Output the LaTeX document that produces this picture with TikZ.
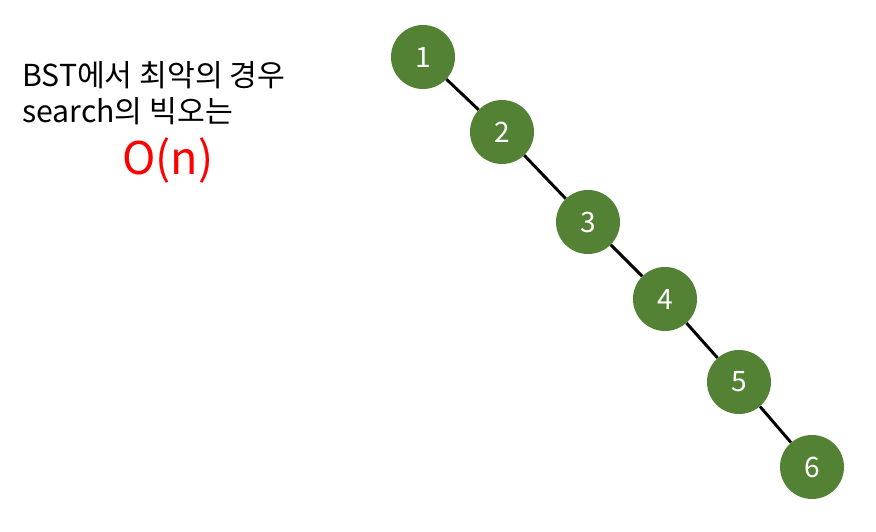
\documentclass[tikz,border=0pt]{standalone}
\usepackage{fontspec}
\setmainfont{Noto Sans CJK KR}
\usetikzlibrary{positioning}
\usetikzlibrary{calc}
\definecolor{treegreen}{HTML}{548235}

\begin{document}
\begin{tikzpicture}[x=0.025cm,y=-0.025cm,
every node/.style={font=\fontsize{21.5}{26}\selectfont},
vertex/.style={circle, fill=treegreen, inner sep=0pt, minimum size=1.6cm, text=white, font=\fontsize{20}{24}\selectfont},
edge/.style={line width=2.1pt, black}]

\useasboundingbox (0,0) rectangle (876,532);

\node (v1) at (423,57) [vertex] {1};
\node (v2) at (502,132) [vertex] {2};
\node (v3) at (588,222) [vertex] {3};
\node (v4) at (665,299) [vertex] {4};
\node (v5) at (739,382) [vertex] {5};
\node (v6) at (812,467) [vertex] {6};

\foreach \a/\b in {v1/v2, v2/v3, v3/v4, v4/v5, v5/v6}
{ \draw [edge] (\a) -- (\b); }

\node (line1) at (22,87) [anchor=base west, inner sep=0pt] {BST에서 최악의 경우};
\node (line2) at (22,122) [anchor=base west, inner sep=0pt] {search의 빅오는};
\node (bigo) at (168,174) [anchor=base, inner sep=0pt, red, font=\fontsize{32}{38}\selectfont] {O(n)};

\end{tikzpicture}
\end{document}
